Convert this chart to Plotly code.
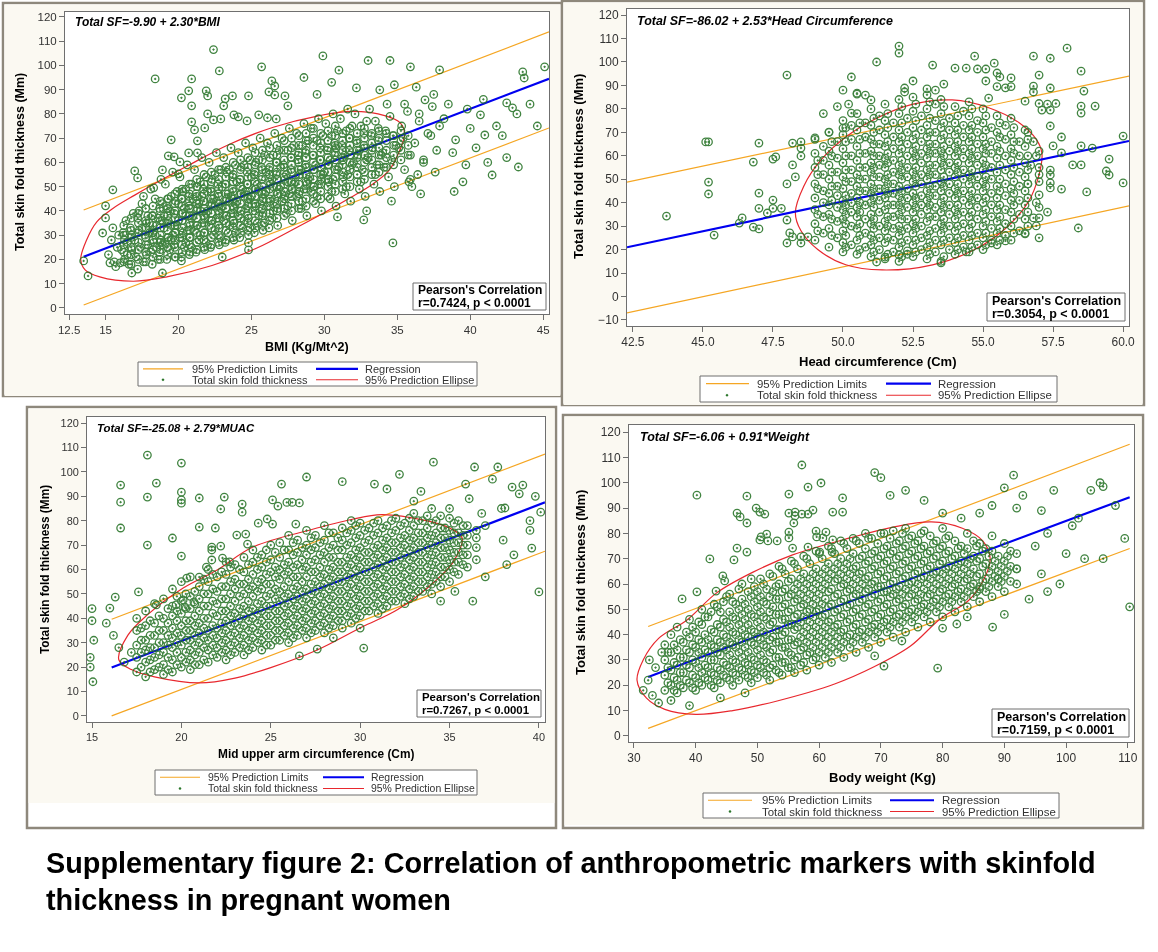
import plotly.graph_objects as go

W, H = 1158, 952

# ------------------------------------------------------------------ data
# Panel 1 : BMI vs total skin fold thickness
bmi_sf_points = [
    (22.4,106.5),(18.4,94.4),(22.8,97.7),(20.9,94.4),(20.7,89.5),(21.9,89.5),(22.0,87.4),(20.2,86.6),(20.9,83.3),
    (22.0,80.0),(22.4,77.5),(22.9,77.9),(23.2,86.2),(23.7,87.4),(24.8,87.4),(23.1,83.3),(23.8,79.6),(24.1,78.8),
    (24.7,77.1),(25.7,99.4),(26.4,93.6),(26.6,91.5),(26.2,89.1),(26.6,87.8),(27.3,87.4),(27.5,83.3),(25.5,79.6),
    (26.1,78.4),(26.7,77.9),(20.9,76.7),(21.1,73.4),(21.3,68.9),(21.8,74.2),(19.5,69.3),(19.3,62.7),(19.7,62.3),
    (20.1,60.2),(17.0,56.5),(17.2,53.6),(18.9,56.9),(20.0,55.3),(15.5,48.7),(18.3,49.5),(21.3,63.9),(20.7,63.9),
    (13.5,19.4),(13.8,13.2),(15.0,37.1),(15.0,42.1),(14.8,30.9),(15.3,18.6),(16.0,18.6),(16.8,14.4),(18.9,14.4),
    (20.2,19.4),(23.0,21.0),(24.8,23.9),(24.8,26.8),(34.7,26.8),(32.9,40.0),(32.7,36.3),(30.9,37.5),
    (45.1,99.4),(43.6,97.3),(43.7,94.8),(42.5,84.5),(42.9,82.5),(40.7,79.6),(41.0,71.3),(39.7,59.0),(39.5,52.0),
    (41.5,54.8),(43.3,58.1),(39.0,69.3),(37.9,98.1),(36.9,85.8),(35.9,99.4),(33.8,89.9),(29.9,103.9),(32.2,90.7),
    (33.0,102),(34.5,102),(31.0,98),(30.5,93),(28.6,95),(29.5,88),(34.8,92),(36.3,91),(37.5,88),(38.5,84),
    (39.8,82),(40.9,86),(38.2,78),(36.5,80),(35.5,84),(41.8,75),(42.2,71),(43.2,80),(44.1,84),(44.6,75),
    (40.0,74),(37.3,71),(38.8,64),(40.4,66),(42.5,62),(41.2,60),(36.8,61),(37.6,56),(38.9,48),(35.9,53),
    (36.6,47),(34.6,44),(36.0,50),
    (15.2,22),(15.4,28),(15.6,19),(15.8,25),(15.5,33),(15.9,30),(15.7,17),
    (16.1,24),(16.2,31),(16.3,20),(16.4,36),(16.5,27),(16.6,18),(16.7,33),(16.8,24),(16.9,39),(16.5,22),(16.3,28),(16.8,30),
    (17.0,28),(17.1,21),(17.2,37),(17.3,32),(17.4,25),(17.5,43),(17.6,19),(17.7,30),(17.8,35),(17.9,26),(17.3,40),
    (17.6,46),(17.8,22),(17.5,33),(17.2,16),(17.9,38),
    (18.0,31),(18.1,23),(18.2,38),(18.3,27),(18.4,45),(18.5,34),(18.6,20),(18.7,41),(18.8,28),(18.9,36),(18.1,49),
    (18.3,32),(18.5,25),(18.7,23),(18.9,43),(18.2,18),(18.6,37),(18.8,53),(18.4,30),(18.9,26),(18.0,35),
    (19.0,33),(19.1,27),(19.2,42),(19.3,36),(19.4,24),(19.5,46),(19.6,30),(19.7,39),(19.8,21),(19.9,34),(19.1,51),
    (19.3,29),(19.5,34),(19.7,26),(19.9,48),(19.2,20),(19.4,40),(19.6,56),(19.8,44),(19.0,38),(19.5,28),(19.8,31),(19.3,45),
    (20.0,36),(20.1,29),(20.2,45),(20.3,39),(20.4,25),(20.5,49),(20.6,32),(20.7,42),(20.8,23),(20.9,37),(20.1,54),
    (20.3,31),(20.5,27),(20.7,46),(20.9,51),(20.2,21),(20.4,41),(20.6,59),(20.8,34),(20.0,43),(20.5,38),(20.8,29),(20.3,48),(20.9,25),
    (21.0,38),(21.1,32),(21.2,47),(21.3,41),(21.4,28),(21.5,52),(21.6,35),(21.7,44),(21.8,24),(21.9,39),(21.1,57),
    (21.3,34),(21.5,30),(21.7,49),(21.9,54),(21.2,23),(21.4,43),(21.6,62),(21.8,37),(21.0,45),(21.5,40),(21.8,31),(21.3,50),(21.9,27),(21.6,46),
    (22.0,40),(22.1,34),(22.2,49),(22.3,43),(22.4,30),(22.5,55),(22.6,37),(22.7,47),(22.8,26),(22.9,41),(22.1,60),
    (22.3,36),(22.5,32),(22.7,51),(22.9,57),(22.2,25),(22.4,45),(22.6,64),(22.8,39),(22.0,48),(22.5,42),(22.8,33),(22.3,53),(22.9,29),(22.6,44),
    (23.0,42),(23.1,36),(23.2,51),(23.3,45),(23.4,31),(23.5,57),(23.6,39),(23.7,49),(23.8,28),(23.9,43),(23.1,62),
    (23.3,38),(23.5,34),(23.7,54),(23.9,59),(23.2,27),(23.4,47),(23.6,66),(23.8,41),(23.0,50),(23.5,44),(23.8,35),(23.3,56),(23.9,31),(23.6,46),
    (24.0,44),(24.1,38),(24.2,53),(24.3,47),(24.4,33),(24.5,59),(24.6,41),(24.7,51),(24.8,30),(24.9,45),(24.1,64),
    (24.3,40),(24.5,36),(24.7,56),(24.9,61),(24.2,29),(24.4,49),(24.6,68),(24.8,43),(24.0,52),(24.5,46),(24.8,37),(24.3,58),(24.9,33),(24.6,48),
    (25.0,46),(25.1,40),(25.2,55),(25.3,49),(25.4,35),(25.5,61),(25.6,43),(25.7,53),(25.8,32),(25.9,47),(25.1,66),
    (25.3,42),(25.5,38),(25.7,58),(25.9,63),(25.2,31),(25.4,51),(25.6,70),(25.8,45),(25.0,54),(25.5,48),(25.8,39),(25.3,60),(25.9,35),
    (26.0,48),(26.1,42),(26.2,57),(26.3,51),(26.4,37),(26.5,63),(26.6,45),(26.7,55),(26.8,34),(26.9,49),(26.1,68),
    (26.3,44),(26.5,40),(26.7,60),(26.9,65),(26.2,33),(26.4,53),(26.6,72),(26.8,47),(26.0,56),(26.5,50),(26.8,41),
    (27.0,50),(27.1,44),(27.2,59),(27.3,53),(27.4,39),(27.5,65),(27.6,47),(27.7,57),(27.8,36),(27.9,51),(27.1,70),
    (27.3,46),(27.5,42),(27.7,62),(27.9,67),(27.4,55),(27.6,74),(27.8,49),(27.0,58),(27.5,52),
    (28.0,52),(28.1,46),(28.2,61),(28.3,55),(28.4,41),(28.5,67),(28.6,49),(28.7,59),(28.8,38),(28.9,53),(28.1,72),
    (28.3,48),(28.5,44),(28.7,64),(28.9,69),(28.4,57),(28.6,76),(28.8,51),(28.2,63),
    (29.0,54),(29.1,48),(29.2,63),(29.3,57),(29.4,43),(29.5,69),(29.6,51),(29.7,61),(29.8,40),(29.9,55),(29.1,74),
    (29.3,50),(29.5,46),(29.7,66),(29.9,71),(29.4,59),(29.6,78),(29.8,53),
    (30.0,56),(30.2,65),(30.3,59),(30.4,45),(30.5,71),(30.6,53),(30.7,63),(30.8,42),(30.9,57),(30.1,76),(30.3,52),
    (30.5,48),(30.7,68),(30.9,73),(30.4,61),(30.6,80),(30.8,66),
    (31.0,58),(31.2,67),(31.3,61),(31.4,47),(31.5,73),(31.6,55),(31.7,65),(31.8,44),(31.9,59),(31.1,78),(31.3,54),
    (31.5,50),(31.7,70),(31.9,75),(31.4,63),(31.6,82),
    (32.0,60),(32.2,69),(32.3,63),(32.4,49),(32.5,75),(32.6,57),(32.7,67),(32.8,46),(32.9,61),(32.1,80),(32.5,52),
    (32.7,72),(32.9,77),(32.4,65),
    (33.0,62),(33.2,71),(33.4,51),(33.5,77),(33.6,59),(33.7,69),(33.8,48),(33.9,63),(33.1,82),(33.5,55),(33.7,74),(33.3,66),
    (34.0,64),(34.2,73),(34.4,54),(34.5,79),(34.6,61),(34.8,50),(34.9,67),(34.3,84),(34.7,71),(34.1,58),
    (35.1,66),(35.3,75),(35.5,57),(35.7,81),(35.9,63),(35.4,70),(35.8,52),
    (36.2,68),(36.5,77),(36.8,60),(37.1,72),(37.4,83),(37.7,65),(36.4,55),(37.9,75),
]
# dense core of panel 1, as BMI columns
bmi_cols = [16.25, 16.75, 17.25, 17.75, 18.25, 18.75, 19.25, 19.75, 20.25, 20.75, 21.25, 21.75, 22.25, 22.75,
            23.25, 23.75, 24.25, 24.75, 25.25, 25.75, 26.25, 26.75, 27.25, 27.75, 28.25, 28.75, 29.25, 29.75,
            30.25, 30.75, 31.25, 31.75, 32.25, 32.75, 33.25, 33.75, 34.25, 34.75, 35.25, 35.75]
sf_bmi_cols = [
    [19, 23, 26, 30, 34], [18, 22, 25, 29, 32, 37], [20, 24, 27, 31, 35, 39], [19, 23, 26, 29, 33, 36, 41],
    [21, 24, 28, 31, 34, 38, 42], [20, 24, 27, 30, 33, 36, 40, 44], [22, 25, 29, 32, 35, 38, 41, 45],
    [21, 25, 28, 31, 34, 37, 40, 43, 47], [23, 26, 29, 33, 36, 39, 42, 45, 49],
    [22, 26, 29, 32, 35, 38, 41, 44, 47, 51], [24, 27, 31, 34, 37, 40, 43, 46, 50, 53],
    [25, 28, 31, 35, 38, 41, 44, 47, 51, 55], [26, 29, 33, 36, 39, 42, 45, 48, 52, 56],
    [27, 30, 34, 37, 40, 43, 46, 49, 53, 57], [28, 32, 35, 38, 41, 44, 47, 51, 54, 58],
    [29, 33, 36, 39, 42, 45, 48, 52, 55, 60], [31, 34, 37, 40, 43, 47, 50, 53, 57, 61],
    [32, 35, 38, 42, 45, 48, 51, 54, 58, 62], [33, 36, 40, 43, 46, 49, 52, 56, 59, 64],
    [34, 38, 41, 44, 47, 50, 54, 57, 61, 65], [36, 39, 42, 45, 49, 52, 55, 58, 62, 66],
    [37, 40, 43, 47, 50, 53, 56, 60, 63, 67], [38, 41, 45, 48, 51, 54, 58, 61, 65, 69],
    [40, 43, 46, 49, 52, 56, 59, 62, 66, 70], [41, 44, 47, 51, 54, 57, 60, 64, 67, 71],
    [42, 45, 49, 52, 55, 58, 62, 65, 69, 72], [44, 47, 50, 53, 57, 60, 63, 67, 70, 74],
    [45, 48, 51, 55, 58, 61, 64, 68, 72], [46, 50, 53, 56, 59, 62, 66, 69, 73],
    [48, 51, 54, 57, 61, 64, 67, 71, 75], [49, 52, 56, 59, 62, 65, 69, 72], [50, 54, 57, 60, 63, 67, 70, 74],
    [52, 55, 58, 62, 65, 68, 72], [53, 56, 60, 63, 66, 70, 74], [55, 58, 61, 65, 68, 72],
    [56, 59, 63, 66, 70, 73], [58, 62, 65, 69, 72], [59, 63, 67, 71], [61, 65, 69, 73], [63, 67, 71],
]
bmi_ellipse = [
    (13.3,20),(13.7,28),(14.4,35.5),(15.5,41),(17.0,46.5),(18.6,52),(20.6,58.5),(23.5,67.5),(26.5,74.5),
    (29.6,79.2),(31.9,81),(34.2,79.2),(35.2,76.3),(35.5,72),(35.1,64),(34.4,56.5),(33.3,51),(31.8,45.5),
    (30.2,40),(28.2,33.5),(25.3,24.5),(22.3,17.5),(19.2,12.8),(16.9,11),(14.6,12.8),(13.6,15.7),
]
bmi_line_x = [13.5, 45.4]
bmi_reg_y = [21.1, 94.5]
bmi_upper_y = [40.4, 113.8]
bmi_lower_y = [1.2, 74.2]
bmi_xticks = [12.5, 15, 20, 25, 30, 35, 40, 45]
bmi_xtick_text = ["12.5", "15", "20", "25", "30", "35", "40", "45"]

# Panel 2 : head circumference (vertical columns of measurements + outliers)
hc_cols = [49.0, 49.3, 49.5, 49.8, 50.0, 50.3, 50.5, 50.8, 51.0, 51.3, 51.5, 51.8, 52.0, 52.3, 52.5, 52.8,
           53.0, 53.3, 53.5, 53.8, 54.0, 54.3, 54.5, 54.8, 55.0, 55.3, 55.5, 55.8, 56.0, 56.3, 56.5, 57.0,
           49.1, 49.6, 50.1, 50.6, 51.1, 51.6, 52.1, 52.6, 53.1, 53.6, 54.1, 54.6, 55.1, 55.6, 56.1, 56.6]
sf_hc_cols = [
    [24, 31, 37, 42, 48, 55, 61, 67],
    [27, 34, 40, 45, 52, 58, 64, 78],
    [21, 29, 35, 39, 44, 50, 56, 62, 70],
    [25, 32, 38, 43, 47, 53, 59, 66, 81],
    [19, 23, 28, 33, 37, 41, 46, 51, 57, 63, 69, 75],
    [22, 30, 36, 40, 44, 49, 54, 60, 67, 73],
    [18, 24, 29, 34, 38, 42, 47, 52, 58, 64, 71, 78],
    [21, 27, 33, 39, 45, 50, 55, 61, 68, 74],
    [17, 22, 26, 31, 35, 40, 44, 48, 53, 57, 62, 67, 73, 80],
    [20, 25, 30, 36, 41, 46, 51, 56, 60, 65, 71, 77],
    [16, 23, 28, 32, 37, 42, 46, 50, 55, 59, 64, 69, 75, 82],
    [19, 24, 29, 34, 39, 44, 48, 53, 58, 63, 68, 74],
    [15, 21, 26, 30, 35, 39, 43, 47, 52, 56, 61, 66, 71, 78, 84],
    [18, 24, 29, 33, 38, 42, 46, 51, 55, 60, 65, 70, 76],
    [17, 22, 27, 31, 36, 40, 44, 49, 53, 58, 62, 67, 72, 79, 85],
    [20, 25, 30, 35, 39, 43, 48, 52, 57, 61, 66, 71, 77],
    [16, 21, 26, 32, 37, 41, 45, 50, 54, 59, 63, 68, 73, 80, 86],
    [19, 24, 29, 34, 38, 43, 47, 52, 56, 61, 65, 70, 75, 82],
    [15, 22, 27, 31, 36, 40, 45, 49, 54, 58, 62, 67, 72, 78, 84],
    [20, 25, 30, 35, 39, 44, 48, 53, 57, 62, 66, 71, 76],
    [18, 23, 28, 33, 37, 42, 46, 51, 55, 60, 64, 69, 74, 81],
    [21, 26, 31, 36, 41, 45, 50, 54, 59, 63, 68, 73, 79],
    [19, 24, 29, 34, 39, 43, 48, 52, 57, 61, 66, 71, 77, 83],
    [22, 27, 33, 38, 42, 47, 51, 56, 60, 65, 70, 75],
    [20, 25, 30, 35, 40, 45, 49, 54, 58, 63, 68, 74, 80],
    [24, 29, 34, 39, 44, 50, 55, 61, 66, 72],
    [22, 27, 32, 37, 42, 47, 53, 59, 64, 70, 77],
    [26, 31, 37, 43, 48, 54, 60, 67, 73],
    [24, 30, 36, 41, 46, 52, 58, 63, 69, 76],
    [28, 35, 41, 47, 53, 60, 66],
    [27, 33, 39, 45, 51, 57, 64, 71],
    [38, 49, 55, 62],
    [28, 35, 46, 52, 58],
    [26, 33, 41, 47, 53, 60, 66],
    [21, 26, 31, 35, 39, 43, 49, 54, 60, 66, 72],
    [20, 26, 31, 36, 40, 45, 50, 55, 61, 67, 74],
    [19, 24, 29, 33, 38, 42, 46, 51, 55, 60, 65, 70, 76],
    [18, 25, 30, 34, 39, 44, 48, 52, 57, 61, 66, 72, 78],
    [17, 23, 28, 33, 37, 41, 45, 50, 54, 58, 63, 68, 74, 81],
    [19, 24, 29, 33, 38, 42, 47, 51, 55, 60, 64, 69, 75, 82],
    [18, 23, 28, 34, 39, 43, 47, 52, 56, 61, 65, 70, 76, 83],
    [17, 24, 29, 33, 38, 42, 47, 51, 56, 60, 64, 69, 74, 81],
    [20, 25, 30, 35, 39, 44, 48, 53, 57, 62, 66, 71, 77],
    [21, 26, 31, 36, 41, 45, 50, 54, 59, 63, 68, 73, 80],
    [22, 27, 32, 37, 42, 47, 51, 56, 61, 65, 71, 77],
    [24, 29, 34, 39, 45, 50, 56, 62, 68, 74],
    [27, 33, 39, 44, 49, 55, 61, 66, 72],
    [30, 36, 42, 48, 54, 60, 67],
]
hc_sf_outliers = [
    (48.0,94.4),(50.3,93.6),(50.0,88.0),(50.5,86.3),(50.2,82.0),(50.3,78.2),(45.1,65.9),(45.2,65.9),(47.0,65.4),
    (46.8,57.3),(47.5,58.6),(47.6,59.5),(48.2,56.1),(45.2,48.8),(45.2,43.7),(47.0,44.1),(47.5,41.1),(48.2,65.4),
    (48.5,65.9),(49.0,67.6),(49.5,70.1),(50.0,71.8),(48.5,63.3),(48.5,59.9),(48.0,48.0),(48.3,51.0),
    (43.7,34.3),(45.4,26.2),(46.4,33.5),(46.3,31.3),(46.8,29.6),(47.0,28.8),(47.0,37.6),(47.5,37.6),(47.8,37.6),
    (47.3,35.6),(48.0,32.6),(48.1,27.1),(48.2,25.4),(48.5,25.4),(48.0,22.8),(48.5,22.8),(48.75,25.4),
    (58.4,29.2),(57.0,25.0),(56.5,26.7),(55.8,23.7),(55.3,22.8),(54.4,19.0),(53.5,14.3),(57.3,36.0),(56.8,33.5),
    (57.0,33.5),(56.9,30.1),(51.2,14.7),(51.5,16.8),(52.0,17.7),(52.3,19.4),
    (52.0,106.8),(52.0,103.8),(51.2,100.0),(53.2,98.7),(54.7,102.5),(56.8,102.5),(57.4,101.6),(58.0,105.9),
    (58.5,96.1),(55.4,99.5),(54.0,97.4),(54.4,97.4),(54.8,97.0),(55.1,97.0),(55.5,95.3),(55.6,93.6),(56.0,93.2),
    (52.5,91.9),(53.0,88.5),(53.3,88.0),(53.6,90.6),(55.1,91.9),(55.5,89.5),(55.8,89.0),(56.0,89.5),(56.8,89.7),
    (56.8,87.2),(57.4,88.9),(58.6,87.6),(57.0,94.4),(56.5,83.3),(57.0,82.3),(57.3,82.0),(57.6,82.3),(57.4,79.5),
    (57.1,79.5),(58.5,81.2),(58.5,78.2),(59.0,81.2),(57.4,72.7),(57.8,68.0),(57.5,64.2),(58.5,64.2),(58.9,63.3),
    (60.0,68.4),(57.8,61.2),(58.2,56.1),(58.5,56.1),(59.5,58.6),(59.4,53.5),(59.5,51.8),(60.0,48.4),(58.7,44.6),
    (57.4,48.4),(57.4,46.3),(57.8,45.8),(57.0,43.3),(57.4,53.9),(57.4,51.8),(52.2,88.9),(52.2,87.2),(50.5,86.7),
    (50.8,85.9),(51.0,83.8),(55.2,84.6),(56.6,70),(56.8,66),(56.9,60),(56.7,56),(57.0,52),(56.6,48),(56.9,40),
]
hc_ellipse = [
    (48.3,35.6),(48.6,47),(49.2,58),(50.1,68),(51.2,76),(52.5,82),(53.9,83.8),(55.2,80.5),(56.3,74),(56.9,67),
    (57.1,61.2),(57.0,52),(56.6,40),(55.8,29),(54.7,20),(53.2,13.5),(51.4,11.3),(50.1,13.5),(49.1,20),(48.5,28),
]
hc_line_x = [42.29, 60.21]
hc_reg_y = [20.97, 66.31]
hc_upper_y = [48.8, 94.0]
hc_lower_y = [-7.0, 38.6]
hc_xticks = [42.5, 45.0, 47.5, 50.0, 52.5, 55.0, 57.5, 60.0]
hc_xtick_text = ["42.5", "45.0", "47.5", "50.0", "52.5", "55.0", "57.5", "60.0"]

# Panel 3 : mid upper arm circumference
muac_cols = [17.5, 18.0, 18.5, 19.0, 19.5, 20.0, 20.5, 21.0, 21.5, 22.0, 22.5, 23.0, 23.5, 24.0, 24.5, 25.0,
             25.5, 26.0, 26.5, 27.0, 27.5, 28.0, 28.5, 29.0, 29.5, 30.0, 30.5, 31.0, 31.5, 32.0, 32.5, 33.0,
             33.5, 34.0, 34.5, 35.0, 35.5, 36.0, 36.5,
             17.75, 18.25, 18.75, 19.25, 19.75, 20.25, 20.75, 21.25, 21.75, 22.25, 22.75, 23.25, 23.75, 24.25,
             24.75, 25.25, 25.75, 26.25, 26.75, 27.25, 27.75, 28.25, 28.75, 29.25, 29.75, 30.25, 30.75, 31.25,
             31.75, 32.25, 32.75, 33.25, 33.75, 34.25, 34.75, 35.25, 35.75]
sf_muac_cols = [
    [18, 24, 29, 35, 40], [16, 22, 27, 31, 37, 43], [19, 24, 28, 33, 38, 46], [17, 21, 26, 30, 35, 40, 48],
    [18, 23, 28, 32, 36, 41, 45, 52], [20, 24, 29, 33, 37, 42, 47, 55], [19, 23, 27, 31, 35, 39, 44, 49, 57],
    [21, 26, 30, 34, 38, 43, 48, 53], [22, 27, 31, 35, 40, 45, 50, 55, 60], [24, 28, 32, 36, 41, 46, 51, 57],
    [23, 27, 31, 35, 39, 43, 48, 53, 58, 63], [26, 30, 34, 38, 42, 47, 52, 56, 62],
    [25, 29, 33, 37, 41, 45, 50, 54, 59, 65], [28, 32, 36, 40, 44, 49, 53, 58, 63, 68],
    [27, 31, 35, 39, 43, 47, 52, 56, 61, 66], [29, 33, 37, 41, 45, 50, 54, 59, 64, 70],
    [31, 35, 39, 43, 47, 51, 56, 60, 65, 71], [30, 34, 38, 42, 46, 50, 55, 59, 63, 68, 74],
    [33, 37, 41, 45, 49, 53, 57, 62, 67, 72], [32, 36, 40, 44, 48, 52, 57, 61, 66, 70, 76],
    [35, 39, 43, 47, 51, 55, 59, 64, 69, 74], [34, 38, 42, 46, 50, 54, 58, 63, 67, 72, 78],
    [37, 41, 45, 49, 53, 57, 61, 65, 70, 75], [39, 43, 47, 51, 55, 59, 63, 68, 72, 77],
    [38, 42, 46, 50, 54, 58, 62, 66, 71, 76, 80], [41, 45, 49, 53, 57, 61, 65, 69, 74, 79],
    [43, 47, 51, 55, 59, 63, 67, 72, 77], [42, 46, 50, 54, 58, 62, 66, 70, 75, 80],
    [45, 49, 53, 57, 61, 65, 69, 73, 78], [47, 51, 55, 59, 63, 67, 71, 76, 81],
    [46, 50, 54, 58, 62, 66, 70, 74, 79], [49, 53, 57, 61, 65, 69, 73, 78, 83],
    [51, 55, 59, 63, 67, 71, 75, 80], [50, 54, 58, 62, 66, 70, 74, 79, 85], [53, 57, 61, 65, 69, 73, 77, 82],
    [55, 60, 64, 68, 72, 76, 81], [58, 63, 67, 71, 75, 80], [61, 66, 70, 74, 78], [64, 69, 73],
    [20, 26, 31, 36], [18, 23, 28, 33, 39], [20, 25, 30, 35, 41], [19, 24, 29, 33, 38, 44],
    [21, 26, 30, 34, 39, 43, 49], [22, 26, 31, 35, 39, 44, 50], [21, 25, 29, 33, 37, 41, 46, 51],
    [23, 28, 32, 36, 40, 45, 50, 56], [25, 29, 33, 37, 42, 47, 52, 58], [26, 30, 34, 38, 43, 48, 53, 59],
    [25, 29, 33, 37, 41, 45, 50, 55, 61], [28, 32, 36, 40, 44, 49, 54, 60], [27, 31, 35, 39, 43, 47, 52, 56, 62],
    [30, 34, 38, 42, 46, 51, 55, 60, 65], [29, 33, 37, 41, 45, 49, 54, 58, 63, 68],
    [31, 35, 39, 43, 48, 52, 57, 61, 67], [33, 37, 41, 45, 49, 53, 58, 62, 68],
    [32, 36, 40, 44, 48, 52, 57, 61, 66, 71], [35, 39, 43, 47, 51, 55, 60, 64, 69],
    [34, 38, 42, 46, 50, 54, 59, 63, 68, 73], [37, 41, 45, 49, 53, 57, 61, 66, 71],
    [36, 40, 44, 48, 52, 56, 60, 65, 69, 75], [39, 43, 47, 51, 55, 59, 63, 68, 73],
    [41, 45, 49, 53, 57, 61, 65, 70, 75], [40, 44, 48, 52, 56, 60, 64, 68, 73, 78],
    [43, 47, 51, 55, 59, 63, 67, 71, 76], [45, 49, 53, 57, 61, 65, 69, 74, 79],
    [44, 48, 52, 56, 60, 64, 68, 72, 77], [47, 51, 55, 59, 63, 67, 71, 75, 80],
    [49, 53, 57, 61, 65, 69, 73, 78], [48, 52, 56, 60, 64, 68, 72, 76, 81], [51, 55, 59, 63, 67, 71, 75, 80],
    [53, 57, 61, 65, 69, 73, 77, 82], [55, 59, 63, 67, 71, 75, 80], [57, 61, 65, 69, 73, 77],
    [59, 63, 67, 71, 75, 79], [62, 66, 70, 74, 78],
]
muac_sf_outliers = [
    (18.1,106.9),(20.0,103.6),(16.6,94.6),(18.6,95.4),(18.1,89.7),(16.6,87.6),(20.0,91.7),(20.0,88.5),(20.0,87.2),
    (21.0,89.3),(22.4,89.7),(22.2,84.8),(23.4,86.8),(23.4,83.5),(16.6,77.0),(18.1,70.0),(19.5,72.9),(20.0,65.5),
    (21.0,77.4),(21.9,77.0),(21.7,69.2),(21.7,68.0),(22.2,69.6),(23.1,74.1),(23.6,74.5),(23.7,70.4),(24.3,79.0),
    (24.8,80.7),(25.1,78.6),(25.1,88.5),(25.4,86.0),(25.6,95.0),(25.9,87.5),(26.2,87.5),(26.6,87.3),(27.0,97.9),
    (26.4,78.6),(20.3,56.5),(21.0,56.9),(21.4,61.0),(21.7,63.9),(22.3,64.7),(22.7,63.1),(16.0,44.2),(16.3,48.7),
    (17.6,50.8),(18.6,45.5),(19.7,45.5),(20.2,44.6),(20.7,46.7),(20.1,47.5),
    (15.0,44),(15.0,39),(15.1,31),(14.9,24),(14.9,20),(15.05,14),(15.8,38),(16.2,33),(16.5,28),(16.8,22),(17.2,26),
    (30.2,27.8),(26.6,24.6),(27.6,27.4),(28.5,32.0),(29.0,36.0),(30.0,36.0),
    (38.1,85.2),(38.5,93.8),(37.7,102),(39.1,94.6),(39.8,90),(40.1,83.5),(39.5,80),(39.5,76),(39.6,68.8),(40.0,50.8),
    (34.1,104),(36.4,102),(32.2,99),(30.8,95),(35.9,95),(37.4,97),(36.1,89),(33.4,92),(31.5,93),(29.0,96),(33.0,88),
    (35.0,85),(37.9,85),(38.9,91),(34.5,47),(35.3,51),(36.3,47),(37.0,57),(38.2,62),(38.6,66),(37.0,78),(36.8,83),
    (38.0,72),(36.5,76),
]
muac_ellipse = [
    (16.5,23),(17.0,33),(18.1,41.4),(20.1,52.4),(22.0,59.8),(24.0,69.2),(27.2,76.2),(29.5,80.5),(31.2,82.5),
    (33.7,80),(35.0,77),(35.7,73),(35.2,63),(34.1,54.6),(32.1,43.6),(30.1,36.4),(27.6,27),(25.0,19.8),
    (23.0,15.5),(21.0,13.5),(18.5,16),(17.2,19),
]
muac_line_x = [16.1, 40.34]
muac_reg_y = [19.8, 87.5]
muac_upper_y = [39.6, 107.3]
muac_lower_y = [0.0, 67.5]
muac_xticks = [15, 20, 25, 30, 35, 40]
muac_xtick_text = ["15", "20", "25", "30", "35", "40"]

# Panel 4 : body weight
wt_cols = [35, 36, 37, 38, 39, 40, 41, 42, 43, 44, 45, 46, 47, 48, 49, 50, 51, 52, 53, 54, 55, 56, 57, 58, 59,
           60, 61, 62, 63, 64, 65, 66, 67, 68, 69, 70, 71, 72, 73, 74, 75, 76, 77, 78, 79, 80, 81, 82, 83, 84,
           85, 86, 87, 88, 89, 90, 91, 92,
           35.5, 36.5, 37.5, 38.5, 39.5, 40.5, 41.5, 42.5, 43.5, 44.5, 45.5, 46.5, 47.5, 48.5, 49.5, 50.5, 51.5,
           52.5, 53.5, 54.5, 55.5, 56.5, 57.5, 58.5, 59.5, 60.5, 61.5, 62.5, 63.5, 64.5, 65.5, 66.5, 67.5, 68.5,
           69.5, 70.5, 71.5, 72.5, 73.5, 74.5, 75.5, 76.5, 77.5, 78.5, 79.5, 80.5, 81.5, 82.5, 83.5, 84.5, 85.5,
           86.5, 87.5, 88.5, 89.5, 90.5]
sf_wt_cols = [
    [18, 24, 30, 36], [20, 26, 33, 40], [17, 22, 28, 34, 43], [19, 25, 31, 37], [21, 27, 33, 39, 46],
    [18, 23, 29, 35, 41], [20, 25, 31, 37, 44, 50], [22, 27, 33, 38, 47], [19, 24, 30, 35, 41, 52],
    [21, 26, 32, 37, 43, 49], [23, 28, 34, 39, 45, 55], [20, 25, 30, 36, 41, 47, 53], [22, 27, 33, 38, 44, 50, 58],
    [24, 29, 35, 40, 46, 52], [21, 26, 31, 37, 42, 48, 55, 62], [23, 28, 34, 39, 45, 51, 57],
    [25, 30, 36, 41, 47, 53, 60], [22, 27, 33, 38, 44, 49, 55, 64], [26, 31, 37, 42, 48, 54, 59],
    [24, 29, 35, 40, 46, 51, 57, 66], [27, 33, 38, 44, 49, 55, 61], [25, 30, 36, 42, 47, 53, 58, 68],
    [28, 34, 39, 45, 51, 56, 62], [26, 32, 37, 43, 49, 54, 60, 70], [30, 35, 41, 47, 52, 58, 64],
    [28, 33, 39, 45, 50, 56, 62, 72], [31, 37, 43, 48, 54, 60, 66], [29, 35, 41, 46, 52, 58, 64, 74],
    [33, 39, 44, 50, 56, 62, 68], [31, 37, 42, 48, 54, 60, 66, 76], [35, 40, 46, 52, 58, 64, 70],
    [33, 39, 44, 50, 56, 62, 67, 77], [37, 42, 48, 54, 60, 65, 71], [35, 41, 46, 52, 58, 63, 69, 78],
    [39, 44, 50, 56, 61, 67, 73], [37, 43, 48, 54, 59, 65, 71, 80], [41, 46, 52, 57, 63, 69, 75],
    [39, 45, 50, 56, 61, 67, 73, 81], [43, 48, 54, 59, 65, 71, 77], [41, 47, 52, 58, 63, 69, 75, 82],
    [45, 50, 56, 61, 67, 73, 79], [43, 49, 54, 60, 65, 71, 77], [47, 52, 58, 63, 69, 75, 81],
    [45, 51, 56, 62, 67, 73, 79], [49, 54, 60, 65, 71, 77], [47, 53, 58, 64, 69, 75, 82],
    [51, 56, 62, 67, 73, 79], [49, 55, 60, 66, 71, 77], [53, 58, 64, 69, 75], [51, 57, 62, 68, 74, 80],
    [55, 60, 66, 71, 77], [53, 59, 64, 70, 76], [57, 62, 68, 74], [55, 61, 67, 73, 79], [59, 65, 71],
    [57, 63, 69, 76], [61, 67, 73], [60, 66, 72],
    [21, 27, 33], [18, 23, 29, 36], [20, 25, 31, 38], [22, 28, 34, 41], [19, 24, 30, 36, 43],
    [21, 27, 33, 38, 45], [23, 28, 34, 40, 47], [20, 25, 30, 36, 42, 49], [22, 27, 33, 38, 44, 51],
    [24, 29, 35, 40, 46, 53], [22, 27, 32, 37, 43, 49, 56], [24, 29, 35, 40, 46, 52],
    [26, 31, 37, 42, 48, 54, 60], [23, 28, 33, 39, 44, 50, 57], [25, 30, 36, 41, 47, 53, 59],
    [27, 32, 38, 43, 49, 55, 62], [24, 29, 35, 40, 46, 52, 58], [28, 34, 39, 45, 51, 57, 63],
    [25, 31, 37, 42, 48, 54, 60, 67], [29, 35, 41, 46, 52, 58, 64], [27, 32, 38, 44, 50, 56, 62, 69],
    [31, 37, 43, 48, 54, 60, 66], [29, 35, 41, 47, 52, 58, 64, 71], [33, 39, 45, 50, 56, 62, 68],
    [31, 37, 43, 49, 54, 60, 66, 73], [35, 41, 47, 52, 58, 64, 70], [33, 39, 45, 51, 57, 62, 68, 75],
    [37, 43, 49, 55, 61, 66, 72], [35, 41, 47, 53, 59, 64, 70, 77], [39, 45, 51, 57, 62, 68, 74],
    [37, 43, 49, 55, 60, 66, 72, 78], [41, 47, 53, 58, 64, 70, 76], [39, 45, 51, 57, 62, 68, 74, 80],
    [43, 49, 55, 60, 66, 72, 78], [41, 47, 53, 59, 64, 70, 76], [45, 51, 57, 62, 68, 74, 80],
    [43, 49, 55, 60, 66, 72, 78], [47, 53, 58, 64, 70, 76], [45, 51, 56, 62, 68, 74, 80],
    [49, 55, 60, 66, 72, 78], [47, 53, 58, 64, 70, 76], [51, 56, 62, 68, 74, 80], [49, 55, 60, 66, 72],
    [53, 58, 64, 70, 76], [51, 57, 62, 68, 74], [55, 60, 66, 72, 78], [53, 59, 64, 70], [57, 62, 68, 74],
    [55, 61, 66, 72], [59, 64, 70], [57, 63, 69, 75], [61, 67, 73], [59, 65, 71], [63, 69], [61, 67], [65, 71],
]
wt_sf_outliers = [
    (57.2,107),(60.3,99.9),(58.2,98.3),(40.2,95.1),(48.3,94.7),(55.1,95.5),(63.8,94.0),(46.7,88),(47.2,86.5),
    (48.3,84.1),(49.8,90),(50.4,88.4),(51.2,87.6),(55.1,88),(56.1,88.4),(56.1,86.9),(57.2,87.6),(58.2,87.6),
    (59.0,89.2),(55.9,84.1),(55.1,80.5),(55.1,78.2),(50.6,78.6),(50.4,77.4),(51.5,79.7),(51.7,77.0),(53.2,77.0),
    (46.7,74.2),(48.3,72.6),(46.2,69.5),(42.3,69.9),(44.4,63.2),(44.7,61.2),(43.3,57.2),(40.2,56.9),(37.8,54.1),
    (62.2,88.4),(63.8,88.4),(59.5,80.9),(61.1,80.5),(62.2,77.4),(55.7,74.2),(58.2,74.6),(59.6,78.6),(60.6,78.2),
    (60.1,72.6),(62.1,72.6),
    (88.1,43.0),(82.3,44.2),(80.0,42.6),(79.2,26.8),(70.5,27.6),(73.4,37.5),(69.0,31.6),
    (69,104),(70,102),(71.5,95),(74,97),(77,93),(80,88),(83,86),(86,88),(90,98),(91.5,103),(93,95),(88,91),
    (92,90),(96,89),(98,97),(104,97),(105.5,100),(106,98.5),(102,86),(108,91),(109.5,78),(110.3,51),(101,83),
    (97,80),(95,75),(100,72),(103,70),(106,70),(92,66),(96,64),(99,60),(94,54),(97,57),(90,48),(86,58),(84,47),
    (89,62),(31.5,18),(32.3,22),(33,16),(33.5,27),(34,13),(32.5,30),(34.5,33),(36,14),(39,12),(44,15),(48,17),
]
wt_ellipse = [
    (30.5,22),(31.5,30),(34.0,38.5),(38.6,45.8),(43.4,56.5),(49.3,64.7),(55.7,71.5),(65.0,78.2),(72.0,82.5),
    (78.2,84.5),(83.2,82),(86.5,77),(87.7,70),(86.7,62),(84.2,53.5),(79.6,46.2),(74.8,35.5),(68.9,27.3),
    (62.5,20.5),(53.2,13.8),(46.0,10.0),(40.0,8.5),(35.0,10.5),(32.0,15.0),
]
wt_line_x = [32.3, 110.3]
wt_reg_y = [23.3, 94.3]
wt_upper_y = [43.2, 115.2]
wt_lower_y = [3.0, 74.0]
wt_xticks = [30, 40, 50, 60, 70, 80, 90, 100, 110]
wt_xtick_text = ["30", "40", "50", "60", "70", "80", "90", "100", "110"]

y_ticks_0 = [0, 10, 20, 30, 40, 50, 60, 70, 80, 90, 100, 110, 120]
y_ticks_m10 = [-10, 0, 10, 20, 30, 40, 50, 60, 70, 80, 90, 100, 110, 120]

titles = ["Total SF=-9.90 + 2.30*BMI", "Total SF=-86.02 + 2.53*Head Circumference",
          "Total SF=-25.08 + 2.79*MUAC", "Total SF=-6.06 + 0.91*Weight"]
x_labels = ["BMI (Kg/Mt^2)", "Head circumference (Cm)", "Mid upper arm circumference (Cm)", "Body weight (Kg)"]
y_label = "Total skin fold thickness (Mm)"
pearson_r = ["r=0.7424, p &lt; 0.0001", "r=0.3054, p &lt; 0.0001", "r=0.7267, p &lt; 0.0001", "r=0.7159, p &lt; 0.0001"]
legend_labels = ["95% Prediction Limits", "Regression", "Total skin fold thickness", "95% Prediction Ellipse"]
caption = ("Supplementary figure 2: Correlation of anthropometric markers with skinfold<br>"
           "thickness in pregnant women")


def cols_to_xy(xs, cols):
    X, Y = [], []
    for x, ys in zip(xs, cols):
        X += [x] * len(ys)
        Y += list(ys)
    return X, Y


def split(pts):
    return [p[0] for p in pts], [p[1] for p in pts]


p1x, p1y = split(bmi_sf_points)
c1x, c1y = cols_to_xy(bmi_cols, sf_bmi_cols)
c2x, c2y = cols_to_xy(hc_cols, sf_hc_cols)
o2x, o2y = split(hc_sf_outliers)
c3x, c3y = cols_to_xy(muac_cols, sf_muac_cols)
o3x, o3y = split(muac_sf_outliers)
c4x, c4y = cols_to_xy(wt_cols, sf_wt_cols)
o4x, o4y = split(wt_sf_outliers)

# ------------------------------------------------------------------ layout geometry (pixels)
panels = [
    dict(px=p1x + c1x, py=p1y + c1y, ell=bmi_ellipse, lx=bmi_line_x, reg=bmi_reg_y, up=bmi_upper_y,
         lo=bmi_lower_y, xr=[12.22, 45.4], yr=[-2.5, 122], xt=bmi_xticks, xtt=bmi_xtick_text, yt=y_ticks_0,
         box=(65, 12, 549, 314), frame=(3, 3, 562, 396), cream=396, fs=1.0,
         tpos=(73, 22), xlpos=(307, 347), ylpos=(20, 162), pbox=(413, 283, 546, 310),
         leg=(138, 362, 477, 386), lor=(143, 183), lt1=190, ldot=163, lbl=(316, 358), lt2=363),
    dict(px=c2x + o2x, py=c2y + o2y, ell=hc_ellipse, lx=hc_line_x, reg=hc_reg_y, up=hc_upper_y, lo=hc_lower_y,
         xr=[42.29, 60.21], yr=[-12.6, 122.6], xt=hc_xticks, xtt=hc_xtick_text, yt=y_ticks_m10,
         box=(627, 9, 1129, 326), frame=(562, 1, 1144, 405), cream=405, fs=1.04,
         tpos=(635, 21), xlpos=(878, 361), ylpos=(578, 167), pbox=(987, 293, 1125, 321),
         leg=(700, 376, 1057, 402), lor=(706, 749), lt1=755, ldot=727, lbl=(886, 931), lt2=936),
    dict(px=c3x + o3x, py=c3y + o3y, ell=muac_ellipse, lx=muac_line_x, reg=muac_reg_y, up=muac_upper_y,
         lo=muac_lower_y, xr=[14.72, 40.34], yr=[-2.5, 122.5], xt=muac_xticks, xtt=muac_xtick_text, yt=y_ticks_0,
         box=(87, 417, 545, 722), frame=(27, 407, 556, 828), cream=803, fs=0.95,
         tpos=(95, 428), xlpos=(316, 754), ylpos=(45, 570), pbox=(417, 690, 541, 717),
         leg=(155, 770, 477, 795), lor=(160, 200), lt1=206, ldot=180, lbl=(323, 364), lt2=369),
    dict(px=c4x + o4x, py=c4y + o4y, ell=wt_ellipse, lx=wt_line_x, reg=wt_reg_y, up=wt_upper_y, lo=wt_lower_y,
         xr=[29.2, 111], yr=[-2.4, 122.8], xt=wt_xticks, xtt=wt_xtick_text, yt=y_ticks_0,
         box=(629, 425, 1134, 742), frame=(563, 415, 1143, 828), cream=825, fs=1.04,
         tpos=(638, 437), xlpos=(882, 777), ylpos=(580, 583), pbox=(992, 709, 1129, 737),
         leg=(703, 793, 1059, 818), lor=(708, 752), lt1=760, ldot=730, lbl=(890, 934), lt2=940),
]

FONT = "Liberation Sans, Arial, sans-serif"
ORANGE = "#F5A623"
BLUE = "#0000F0"
RED = "#E8282E"
GREEN = "#1F6E1F"
FRAME = "#8E887C"
CREAM = "#FBF9F2"


def X(p):
    return p / W


def Y(p):
    return 1 - p / H


fig = go.Figure()
shapes, annotations = [], []
layout_axes = {}

for i, pn in enumerate(panels):
    k = "" if i == 0 else str(i + 1)
    xa, ya = "x" + k, "y" + k
    l, t, r, b = pn["box"]
    s = pn["fs"]
    tickfont = dict(family=FONT, size=11.5 * s, color="#333333")
    layout_axes["xaxis" + k] = dict(
        domain=[X(l), X(r)], range=pn["xr"], anchor=ya, tickvals=pn["xt"], ticktext=pn["xtt"],
        ticks="outside", ticklen=5, tickcolor="#6f6f6f", showline=True, linecolor="#6f6f6f", linewidth=1,
        mirror=True, showgrid=False, zeroline=False, tickfont=tickfont, automargin=False, fixedrange=True)
    layout_axes["yaxis" + k] = dict(
        domain=[Y(b), Y(t)], range=pn["yr"], anchor=xa, tickvals=pn["yt"],
        ticks="outside", ticklen=5, tickcolor="#6f6f6f", showline=True, linecolor="#6f6f6f", linewidth=1,
        mirror=True, showgrid=False, zeroline=False, tickfont=tickfont, automargin=False, fixedrange=True)

    # frames
    fx0, fy0, fx1, fy1 = pn["frame"]
    shapes.append(dict(type="rect", xref="paper", yref="paper", x0=X(fx0), x1=X(fx1), y0=Y(fy1), y1=Y(fy0),
                       fillcolor="white", line=dict(color=FRAME, width=2.5), layer="below"))
    shapes.append(dict(type="rect", xref="paper", yref="paper", x0=X(fx0 + 1.5), x1=X(fx1 - 1.5),
                       y0=Y(pn["cream"]), y1=Y(fy0 + 1.5), fillcolor=CREAM, line=dict(width=0), layer="below"))
    shapes.append(dict(type="rect", xref="paper", yref="paper", x0=X(l), x1=X(r), y0=Y(b), y1=Y(t),
                       fillcolor="white", line=dict(width=0), layer="below"))

    # lines (drawn first, points on top)
    fig.add_trace(go.Scatter(x=pn["lx"], y=pn["up"], mode="lines", line=dict(color=ORANGE, width=1.2),
                             xaxis=xa, yaxis=ya, showlegend=False, hoverinfo="skip"))
    fig.add_trace(go.Scatter(x=pn["lx"], y=pn["lo"], mode="lines", line=dict(color=ORANGE, width=1.2),
                             xaxis=xa, yaxis=ya, showlegend=False, hoverinfo="skip"))
    ex, ey = split(pn["ell"] + pn["ell"][:1])
    fig.add_trace(go.Scatter(x=ex, y=ey, mode="lines", line=dict(color=RED, width=1.2, shape="spline", smoothing=1.0),
                             xaxis=xa, yaxis=ya, showlegend=False, hoverinfo="skip"))
    fig.add_trace(go.Scatter(x=pn["lx"], y=pn["reg"], mode="lines", line=dict(color=BLUE, width=2.2),
                             xaxis=xa, yaxis=ya, showlegend=False, hoverinfo="skip"))
    fig.add_trace(go.Scatter(x=pn["px"], y=pn["py"], mode="markers",
                             marker=dict(symbol="circle-open-dot", size=7.5, color=GREEN, line=dict(width=1.3)),
                             opacity=0.85, xaxis=xa, yaxis=ya, showlegend=False))

    # title inside plot
    tx, ty = pn["tpos"]
    annotations.append(dict(xref="paper", yref="paper", x=X(tx), y=Y(ty), xanchor="left", yanchor="middle",
                            text="<b><i>" + titles[i] + "</i></b>", showarrow=False,
                            font=dict(family=FONT, size=12 * s, color="black")))
    # axis titles
    xx, xy = pn["xlpos"]
    annotations.append(dict(xref="paper", yref="paper", x=X(xx), y=Y(xy), xanchor="center", yanchor="middle",
                            text="<b>" + x_labels[i] + "</b>", showarrow=False,
                            font=dict(family=FONT, size=12.5 * s, color="black")))
    yx, yy = pn["ylpos"]
    annotations.append(dict(xref="paper", yref="paper", x=X(yx), y=Y(yy), xanchor="center", yanchor="middle",
                            text="<b>" + y_label + "</b>", showarrow=False, textangle=-90,
                            font=dict(family=FONT, size=12.5 * s, color="black")))
    # Pearson box
    bx0, by0, bx1, by1 = pn["pbox"]
    shapes.append(dict(type="rect", xref="paper", yref="paper", x0=X(bx0), x1=X(bx1), y0=Y(by1), y1=Y(by0),
                       fillcolor="white", line=dict(color="#6f6f6f", width=1)))
    bh = by1 - by0
    annotations.append(dict(xref="paper", yref="paper", x=X(bx0 + 3), y=Y(by0 + bh * 0.27), xanchor="left",
                            yanchor="middle", text="<b>Pearson's Correlation</b>", showarrow=False,
                            font=dict(family=FONT, size=12 * s, color="black")))
    annotations.append(dict(xref="paper", yref="paper", x=X(bx0 + 3), y=Y(by0 + bh * 0.75), xanchor="left",
                            yanchor="middle", text="<b>" + pearson_r[i] + "</b>", showarrow=False,
                            font=dict(family=FONT, size=12 * s, color="black")))
    # legend box
    gx0, gy0, gx1, gy1 = pn["leg"]
    shapes.append(dict(type="rect", xref="paper", yref="paper", x0=X(gx0), x1=X(gx1), y0=Y(gy1), y1=Y(gy0),
                       fillcolor="white", line=dict(color="#6f6f6f", width=1)))
    r1 = gy0 + (gy1 - gy0) * 0.29
    r2 = gy0 + (gy1 - gy0) * 0.74
    shapes.append(dict(type="line", xref="paper", yref="paper", x0=X(pn["lor"][0]), x1=X(pn["lor"][1]),
                       y0=Y(r1), y1=Y(r1), line=dict(color=ORANGE, width=1.2)))
    shapes.append(dict(type="line", xref="paper", yref="paper", x0=X(pn["lbl"][0]), x1=X(pn["lbl"][1]),
                       y0=Y(r1), y1=Y(r1), line=dict(color=BLUE, width=2.2)))
    shapes.append(dict(type="line", xref="paper", yref="paper", x0=X(pn["lbl"][0]), x1=X(pn["lbl"][1]),
                       y0=Y(r2), y1=Y(r2), line=dict(color=RED, width=1.2)))
    shapes.append(dict(type="circle", xref="paper", yref="paper", x0=X(pn["ldot"] - 1), x1=X(pn["ldot"] + 1),
                       y0=Y(r2 + 1), y1=Y(r2 - 1), fillcolor=GREEN, line=dict(color=GREEN, width=0.5)))
    for txt, lxp, lyp in [(legend_labels[0], pn["lt1"], r1), (legend_labels[1], pn["lt2"], r1),
                          (legend_labels[2], pn["lt1"], r2), (legend_labels[3], pn["lt2"], r2)]:
        annotations.append(dict(xref="paper", yref="paper", x=X(lxp), y=Y(lyp), xanchor="left", yanchor="middle",
                                text=txt, showarrow=False, font=dict(family=FONT, size=11 * s, color="#333333")))

annotations.append(dict(xref="paper", yref="paper", x=X(44), y=Y(845), xanchor="left", yanchor="top",
                        align="left", text="<b>" + caption + "</b>", showarrow=False,
                        font=dict(family=FONT, size=28.8, color="black")))

fig.update_layout(width=W, height=H, margin=dict(l=0, r=0, t=0, b=0, pad=0, autoexpand=False),
                  paper_bgcolor="white", plot_bgcolor="rgba(0,0,0,0)", showlegend=False, shapes=shapes,
                  annotations=annotations, **layout_axes)

fig.write_html("out.html", config={"displayModeBar": False, "responsive": False},
               post_script="document.documentElement.style.overflow='hidden';"
                           "document.body.style.margin='0px';document.body.style.overflow='hidden';")
